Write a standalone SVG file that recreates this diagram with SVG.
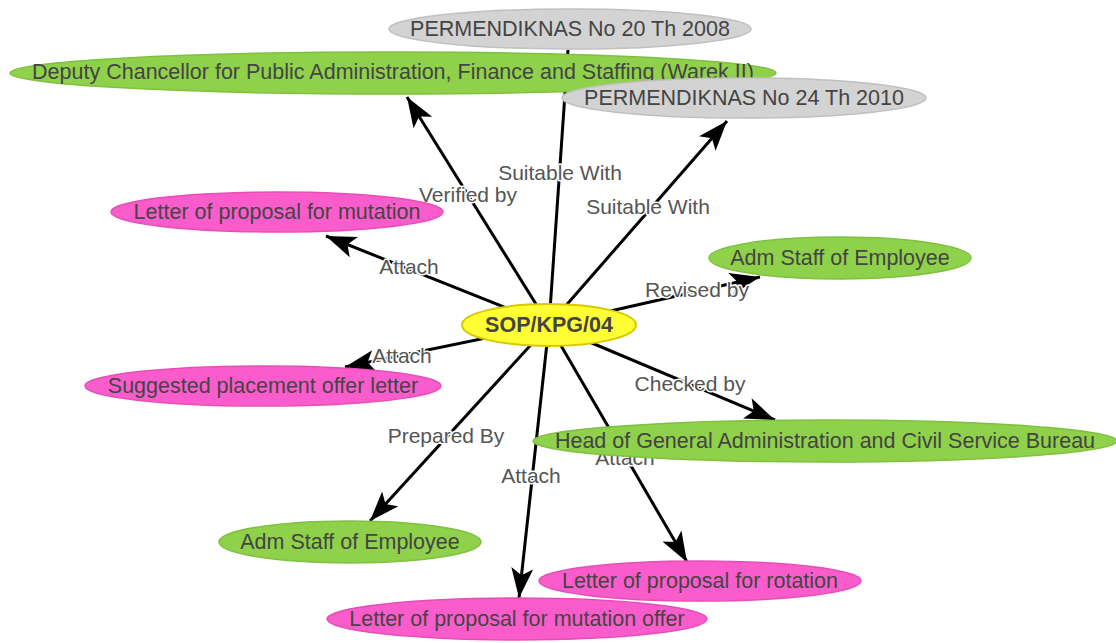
<svg xmlns="http://www.w3.org/2000/svg" width="1116" height="643" viewBox="0 0 1116 643">
<style>
.e{stroke:#000;stroke-width:3;fill:none;marker-end:url(#ah)}
.el{font-family:"Liberation Sans",Arial,sans-serif;font-size:21px;fill:#555;text-anchor:middle;stroke:#fff;stroke-width:3;paint-order:stroke;stroke-linejoin:round}
.t{font-family:"Liberation Sans",Arial,sans-serif;font-size:21.5px;fill:#444;text-anchor:middle;dominant-baseline:central}
.g{fill:#d3d3d3;stroke:#c0c0c0;stroke-width:1.5}
.gr{fill:#8fd14a;stroke:#7fc03e;stroke-width:1.5}
.p{fill:#fa5ccb;stroke:#e54fb7;stroke-width:1.5}
.y{fill:#ffff33;stroke:#d9c800;stroke-width:2}
</style>
<defs>
<marker id="ah" markerUnits="userSpaceOnUse" markerWidth="34" markerHeight="26" refX="30" refY="11" orient="auto">
<path d="M0,0 L30,11 L0,22 L7,11 z" fill="#000"/>
</marker>
</defs>
<rect width="1116" height="643" fill="#fff"/>
<g id="connectors">
<line class="e" x1="549" y1="325" x2="568" y2="50"/>
<line class="e" x1="549" y1="325" x2="407" y2="97"/>
<line class="e" x1="549" y1="325" x2="727" y2="121"/>
<line class="e" x1="549" y1="325" x2="326" y2="236"/>
<line class="e" x1="549" y1="325" x2="760" y2="277"/>
<line class="e" x1="549" y1="325" x2="345" y2="367"/>
<line class="e" x1="549" y1="325" x2="775" y2="420"/>
<line class="e" x1="549" y1="325" x2="370" y2="521"/>
<line class="e" x1="549" y1="325" x2="519" y2="598"/>
<line class="e" x1="549" y1="325" x2="687" y2="562"/>
<text class="el" x="560" y="180">Suitable With</text>
<text class="el" x="468" y="202">Verified by</text>
<text class="el" x="648" y="214">Suitable With</text>
<text class="el" x="409" y="274">Attach</text>
<text class="el" x="697" y="297">Revised by</text>
<text class="el" x="402" y="363">Attach</text>
<text class="el" x="690" y="391">Checked by</text>
<text class="el" x="446" y="443">Prepared By</text>
<text class="el" x="531" y="483">Attach</text>
<text class="el" x="625" y="465">Attach</text>
</g>
<g id="n-perm20"><ellipse class="g" cx="570" cy="29" rx="181" ry="20"/><text class="t" x="570" y="29">PERMENDIKNAS No 20 Th 2008</text></g>
<g id="n-deputy"><ellipse class="gr" cx="393" cy="73" rx="383" ry="21"/><text class="t" x="393" y="72">Deputy Chancellor for Public Administration, Finance and Staffing (Warek II)</text></g>
<g id="n-perm24"><ellipse class="g" cx="744" cy="98" rx="182" ry="20"/><text class="t" x="744" y="98">PERMENDIKNAS No 24 Th 2010</text></g>
<g id="n-mutation"><ellipse class="p" cx="277" cy="212" rx="166" ry="20"/><text class="t" x="277" y="212">Letter of proposal for mutation</text></g>
<g id="n-adm-right"><ellipse class="gr" cx="840" cy="258" rx="131" ry="21"/><text class="t" x="840" y="258">Adm Staff of Employee</text></g>
<g id="n-sop"><ellipse class="y" cx="549" cy="325" rx="87" ry="21"/><text class="t" x="549" y="325" style="font-weight:bold">SOP/KPG/04</text></g>
<g id="n-suggested"><ellipse class="p" cx="263" cy="386" rx="178" ry="20"/><text class="t" x="263" y="386">Suggested placement offer letter</text></g>
<g id="n-head"><ellipse class="gr" cx="825" cy="441" rx="292" ry="21"/><text class="t" x="825" y="441">Head of General Administration and Civil Service Bureau</text></g>
<g id="n-adm-bottom"><ellipse class="gr" cx="350" cy="542" rx="131" ry="21"/><text class="t" x="350" y="542">Adm Staff of Employee</text></g>
<g id="n-rotation"><ellipse class="p" cx="700" cy="581" rx="161" ry="20"/><text class="t" x="700" y="581">Letter of proposal for rotation</text></g>
<g id="n-mutation-offer"><ellipse class="p" cx="517" cy="619" rx="190" ry="21"/><text class="t" x="517" y="619">Letter of proposal for mutation offer</text></g>
</svg>
